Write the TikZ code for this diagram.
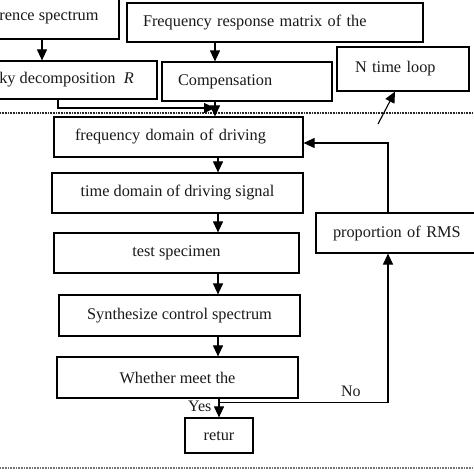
\documentclass[tikz,border=0pt]{standalone}
\usepackage{fontspec}
\setmainfont{Liberation Serif}
\usetikzlibrary{arrows.meta,positioning,calc}

\begin{document}
\begin{tikzpicture}[
x=1pt,y=-1pt,
box/.style={
  draw,
  line width=1.2pt,
  text=black!90,
  font=\fontsize{16.3}{19}\selectfont,
  inner sep=0pt
},
lbox/.style={
  box,
  align=left,
  inner xsep=#1
},
lbl/.style={
  text=black!90,
  font=\fontsize{16}{19}\selectfont,
  inner sep=3pt
},
arr/.style={
  line width=1.1pt,
  -{Triangle[length=11pt,width=10pt]}
},
dots/.style={
  line width=1.2pt,
  dash pattern=on 0.8pt off 0.8pt
}
]
\useasboundingbox (0,0) rectangle (474,474);
\clip (0,0) rectangle (474,474);

\node[box,minimum width=140pt,minimum height=42pt] (ref) at (49,18)
  {rence spectrum};
\node[lbox=16pt,text width=264pt,minimum height=39pt] (fresp) at (275,22.5)
  {Frequency response matrix of the};
\node[box,minimum width=181pt,minimum height=38pt] (dec) at (66.5,80)
  {ky decomposition\enspace\textit{R}};
\node[lbox=16pt,text width=138pt,minimum height=39pt] (comp) at (247,81.5)
  {Compensation};
\node[lbox=18pt,text width=96pt,minimum height=44pt] (ntl) at (403,69)
  {N time loop};
\node[lbox=21pt,text width=207pt,minimum height=40pt] (freq) at (178.5,137)
  {frequency domain of driving};
\node[box,minimum width=251pt,minimum height=40pt] (time) at (177.5,193)
  {time domain of driving signal};
\node[box,minimum width=245pt,minimum height=40pt] (test) at (176.5,253)
  {test specimen};
\node[box,minimum width=241pt,minimum height=41pt] (synth) at (179.5,315.5)
  {Synthesize control spectrum};
\node[box,minimum width=241pt,minimum height=41pt] (meet) at (177.5,377.5)
  {Whether meet the};
\node[box,minimum width=68pt,minimum height=35pt] (ret) at (219,435.5)
  {retur};
\node[lbox=17pt,text width=140pt,minimum height=40pt] (rms) at (403,233)
  {proportion of RMS};

\coordinate (j) at (215,108);
\coordinate (spine) at (218,0);
\coordinate (loop) at (388,0);
\coordinate (lt) at (378,124);
\coordinate (nj) at ($(meet.south -| ret)+(0,4)$);

\draw[dots,black!85] (0,113) -- (474,113);
\draw[dots,black!55] (0,468) -- (474,468);

\draw[arr] ([xshift=-7pt]ref.south) -- ([xshift=-7pt]ref.south |- dec.north);
\draw[arr] (fresp.south -| j) -- (comp.north -| j);
\draw[arr] ([xshift=-8.5pt]dec.south) |- (j);
\draw[arr] (comp.south -| j) -- (freq.north -| j);
\foreach \a/\b in {freq/time,time/test,test/synth,synth/meet}
  \draw[arr] (\a.south -| spine) -- (\b.north -| spine);
\draw[arr] (meet.south -| ret) -- node[lbl,left=4pt,pos=0.4] {Yes} (ret.north);
\draw[arr] (nj) -| node[lbl,pos=0.39,above=2pt] {No} (rms.south -| loop);
\draw[arr] (rms.north -| loop) |- ([yshift=-6pt]freq.east);
\draw[arr] (lt) -- ([xshift=-8pt]ntl.south);
\end{tikzpicture}
\end{document}
